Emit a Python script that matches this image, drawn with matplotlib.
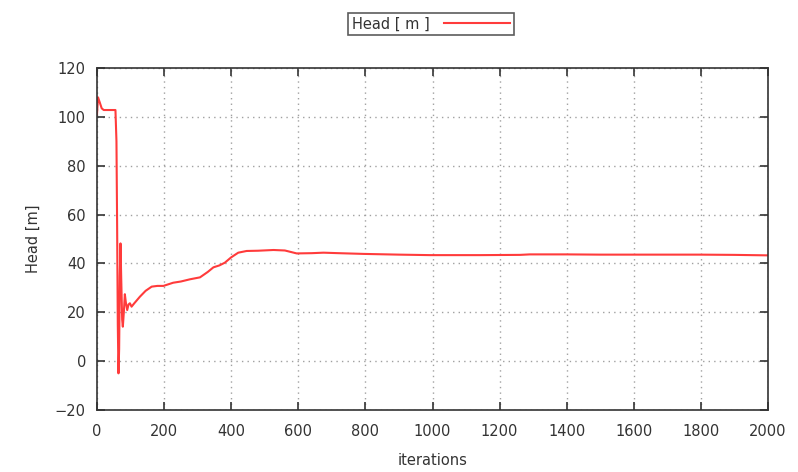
import matplotlib
matplotlib.use("Agg")
import matplotlib.pyplot as plt
import numpy as np

iterations = [0, 3, 8, 14, 20, 30, 45, 55, 58, 60, 62, 64, 66, 68, 70, 72, 75, 77, 80, 83, 86, 90, 94, 98, 103, 110,
              128, 145, 163, 180, 198, 227, 250, 277, 307, 330, 347, 365, 381, 400, 421, 446, 480, 526, 560, 595,
              640, 675, 720, 794, 900, 993, 1142, 1261, 1290, 1400, 1500, 1598, 1700, 1795, 1900, 2000]
head = [101, 108, 106, 103.5, 102.8, 102.8, 102.8, 102.8, 90, 55, 15, -5, 5, 35, 48.2, 35, 17, 14.1, 20, 27.4, 24, 20.9, 23.2, 23.7, 22.3, 23.5,
        26.4, 28.8, 30.5, 30.8, 30.8, 32.1, 32.6, 33.5, 34.3, 36.5, 38.4, 39.2, 40.3, 42.5, 44.4, 45.1, 45.2, 45.5, 45.3, 44.1,
        44.2, 44.4, 44.2, 43.9, 43.6, 43.4, 43.4, 43.5, 43.7, 43.7, 43.6, 43.6, 43.6, 43.6, 43.5, 43.3]

x_ticks = list(range(0, 2001, 200))
y_ticks = list(range(-20, 121, 20))

plt.rcParams['font.family'] = ['DejaVu Sans']
fig = plt.figure(figsize=(7.98, 4.72), dpi=100)
ax = fig.add_axes([97/798, 1-410/472, (768-97)/798, (410-68)/472])

line, = ax.plot(iterations, head, color='#ff3b3b', lw=1.5, label='Head [ m ]')

ax.set_xlim(0, 2000)
ax.set_ylim(-20, 120)
ax.set_xticks(x_ticks)
ax.set_yticks(y_ticks)
ax.grid(True, color='#a0a0a0', linestyle=(0, (1, 3)), linewidth=1.0)
ax.tick_params(direction='in', top=True, right=True, length=6, width=1.2,
               labelsize=10.5, colors='#333333', pad=8)
ax.tick_params(axis='x', pad=10)
for s in ax.spines.values():
    s.set_color('#333333')
    s.set_linewidth(1.2)

ax.set_xlabel('iterations', fontsize=10.5, color='#333333', labelpad=10)
ax.set_ylabel('Head [m]', fontsize=10.5, color='#333333', labelpad=10)

leg = fig.legend(handles=[line], loc='center', bbox_to_anchor=(431/798, 1-24/472),
                 markerfirst=False, fontsize=10.5, frameon=True, fancybox=False,
                 handlelength=4.5, borderpad=0.25, handletextpad=1.0)
leg.get_frame().set_edgecolor('#333333')
leg.get_frame().set_linewidth(1.2)
for t in leg.get_texts():
    t.set_color('#333333')

fig.savefig('out.png', dpi=100)
